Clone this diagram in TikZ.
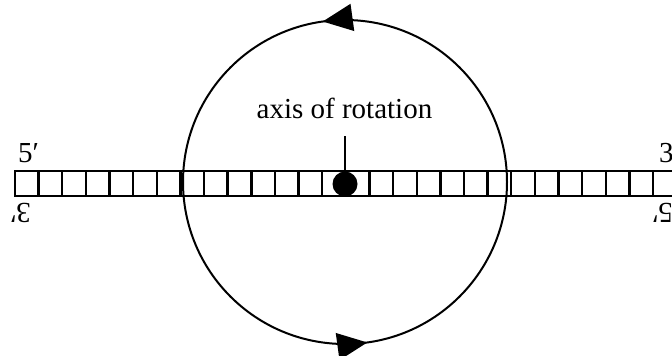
\documentclass[tikz,border=0pt]{standalone}
\usepackage{fontspec}
\setmainfont{Liberation Serif}
\usetikzlibrary{arrows.meta,decorations.markings}
\begin{document}
\begin{tikzpicture}[x=1pt,y=-1pt,
  lbl/.style={inner sep=0pt,font=\fontsize{29}{30}\selectfont},
  strip/.style={line width=2.4pt},
  ring/.style={line width=2pt}]
\useasboundingbox (0,0) rectangle (672,356);
\clip (0,0) rectangle (672,356);
\fill[white] (0,0) rectangle (672,356);
% strip of cells
\foreach \k in {0,...,27}{
  \draw[strip] ({15+23.63*\k},171) rectangle ({15+23.63*(\k+1)},196);
}
% circle with arrows
\coordinate (c) at (345,182);
\draw[ring,postaction={decorate},decoration={markings,
   mark=at position 0.228 with {\arrowreversed{Triangle[length=30pt,width=27pt]}},
   mark=at position 0.728 with {\arrowreversed{Triangle[length=30pt,width=27pt]}}}]
   (c) circle[radius=162];
% axis
\fill (345,184) circle[radius=12.5];
\coordinate (dot) at (345,184);
\coordinate (stem) at (345,136);
\draw[line width=2pt] (dot) -- (stem);
\node[lbl,anchor=base] (axis) at (344.5,118) {axis of rotation};
% end labels
\node[lbl,anchor=base west] (tl) at (18,162) {5′};
\node[lbl,anchor=base west] (tr) at (659,162) {3′};
\node[lbl,anchor=base west,rotate=180] (bl) at (31,203) {3′};
\node[lbl,anchor=base west,rotate=180] (br) at (673,203) {5′};
\end{tikzpicture}
\end{document}
